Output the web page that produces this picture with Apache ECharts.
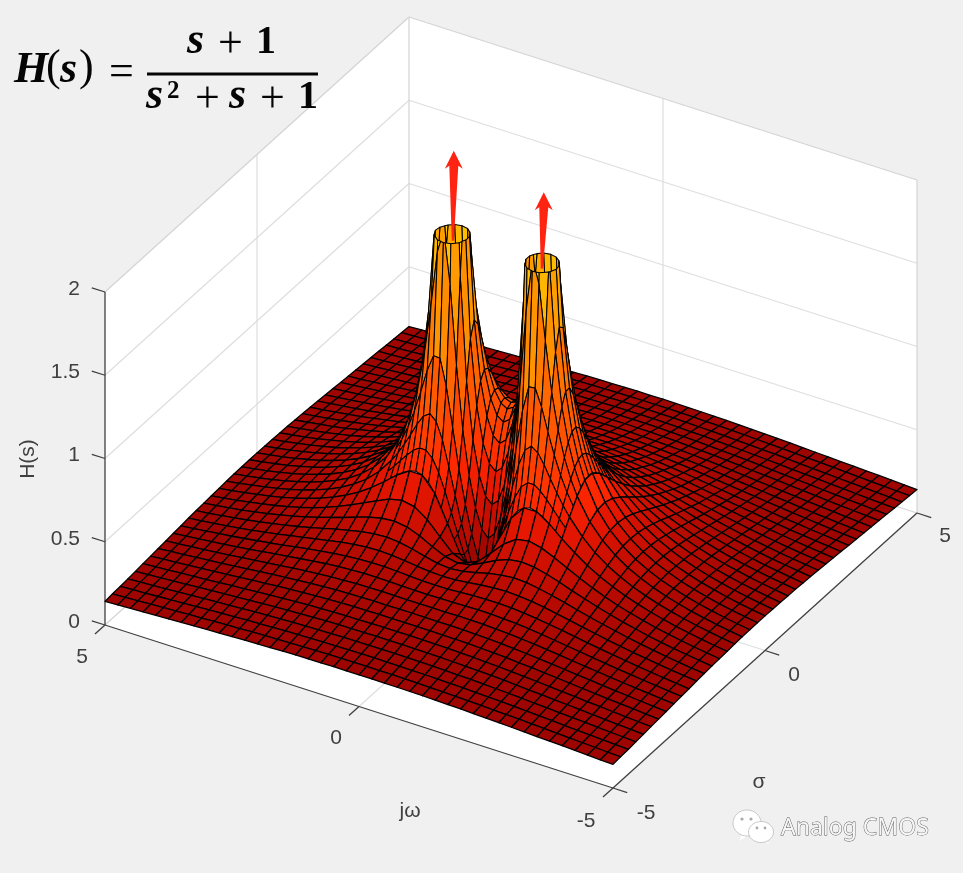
<!DOCTYPE html>
<html><head><meta charset="utf-8">
<style>html,body{margin:0;padding:0;background:#f0f0f0}#c{width:963px;height:873px}</style>
<script src="https://cdn.jsdelivr.net/npm/echarts@6/dist/echarts.min.js"></script>
</head><body><div id="c"></div>
<script>
// Surface heights |H| per jω row (|ω| = 0 … 5, the surface is mirror-symmetric in ω); columns are sigmaValues.
const sigmaValues=[-5,-4.75,-4.5,-4.25,-4,-3.75,-3.5,-3.25,-3,-2.75,-2.5,-2.25,-2,-1.75,-1.5,-1.25,-1,-0.75,-0.5,-0.25,0,0.25,0.5,0.75,1,1.25,1.5,1.75,2,2.25,2.5,2.75,3,3.25,3.5,3.75,4,4.25,4.5,4.75,5];
const omegaValues=[-5,-4.75,-4.5,-4.25,-4,-3.75,-3.5,-3.25,-3,-2.75,-2.5,-2.25,-2,-1.75,-1.5,-1.25,-1,-0.75,-0.5,-0.25,0,0.25,0.5,0.75,1,1.25,1.5,1.75,2,2.25,2.5,2.75,3,3.25,3.5,3.75,4,4.25,4.5,4.75,5];
const w000=[.190,.199,.209,.219,.231,.243,.256,.271,.286,.301,.316,.328,.333,.324,.286,.190,0,.308,.667,.923,1,.952,.857,.757,.667,.590,.526,.473,.429,.391,.359,.331,.308,.287,.269,.253,.238,.225,.214,.203,.194];
const w025=[.190,.199,.209,.219,.231,.243,.256,.271,.286,.302,.317,.331,.340,.339,.317,.271,.258,.465,.813,1.04,1.06,.978,.864,.757,.665,.588,.524,.471,.427,.390,.358,.331,.307,.286,.268,.252,.238,.225,.213,.203,.193];
const w050=[.190,.199,.208,.219,.230,.242,.256,.270,.286,.303,.321,.339,.357,.374,.392,.430,.555,.908,1.414,1.463,1.24,1.034,.877,.755,.658,.581,.518,.466,.423,.386,.355,.329,.305,.285,.266,.251,.237,.224,.213,.202,.193];
const w075=[.189,.198,.207,.218,.229,.241,.255,.270,.287,.305,.326,.349,.377,.414,.470,.585,.864,1.755,4.82,2.354,1.439,1.077,.876,.742,.644,.567,.507,.456,.415,.379,.349,.324,.302,.282,.264,.249,.235,.222,.211,.201,.192];
const w100=[.188,.197,.206,.216,.228,.240,.254,.269,.286,.306,.329,.356,.392,.443,.523,.672,1,1.931,4.47,2.34,1.414,1.044,.844,.713,.620,.548,.491,.444,.405,.371,.344,.318,.297,.278,.261,.246,.232,.220,.209,.199,.190];
const w125=[.187,.195,.204,.214,.226,.238,.252,.267,.285,.305,.329,.359,.399,.454,.538,.674,.912,1.306,1.658,1.493,1.167,.934,.779,.670,.587,.523,.472,.429,.392,.362,.335,.311,.291,.273,.257,.242,.230,.218,.207,.197,.189];
const w150=[.185,.193,.202,.212,.223,.235,.249,.264,.281,.302,.326,.356,.395,.447,.520,.624,.768,.938,1.054,1.034,.924,.802,.697,.616,.548,.494,.448,.411,.377,.349,.326,.303,.284,.267,.252,.238,.226,.215,.204,.195,.187];
const w175=[.183,.191,.200,.210,.220,.232,.245,.260,.277,.297,.319,.348,.383,.429,.486,.559,.648,.732,.787,.789,.746,.680,.616,.558,.506,.462,.423,.391,.362,.337,.314,.295,.277,.261,.247,.234,.222,.211,.201,.193,.184];
const w200=[.181,.188,.197,.206,.217,.228,.241,.254,.271,.290,.311,.337,.367,.405,.449,.500,.555,.602,.633,.638,.620,.586,.546,.504,.465,.430,.399,.371,.345,.322,.303,.285,.269,.254,.241,.229,.217,.207,.198,.189,.182];
const w225=[.178,.186,.194,.203,.213,.223,.235,.248,.264,.281,.300,.322,.349,.378,.412,.448,.484,.516,.535,.539,.530,.510,.484,.455,.427,.399,.374,.350,.329,.309,.291,.275,.260,.247,.234,.223,.213,.203,.194,.186,.179];
const w250=[.175,.182,.191,.199,.208,.218,.230,.242,.256,.271,.289,.308,.329,.354,.379,.405,.430,.451,.464,.468,.463,.451,.434,.414,.391,.370,.350,.330,.311,.295,.279,.265,.251,.239,.228,.217,.208,.199,.191,.183,.176];
const w275=[.172,.179,.187,.195,.203,.213,.223,.235,.247,.261,.276,.292,.310,.330,.349,.369,.386,.401,.410,.414,.411,.404,.391,.377,.361,.344,.327,.311,.296,.281,.267,.254,.243,.232,.221,.212,.203,.194,.187,.179,.173];
const w300=[.169,.176,.183,.190,.198,.207,.217,.227,.238,.251,.263,.278,.292,.308,.322,.338,.351,.362,.369,.371,.370,.365,.356,.345,.333,.320,.307,.294,.280,.268,.256,.245,.234,.224,.214,.206,.197,.189,.182,.175,.169];
const w325=[.166,.172,.179,.186,.193,.201,.210,.219,.229,.240,.251,.263,.276,.288,.300,.312,.322,.330,.335,.338,.336,.333,.327,.319,.310,.299,.288,.277,.266,.255,.245,.235,.225,.216,.208,.200,.192,.185,.178,.172,.166];
const w350=[.162,.169,.175,.181,.188,.195,.203,.212,.221,.230,.240,.250,.260,.271,.280,.289,.297,.303,.308,.309,.309,.306,.302,.296,.288,.280,.271,.262,.252,.243,.234,.225,.217,.209,.201,.194,.187,.180,.174,.168,.162];
const w375=[.159,.165,.170,.176,.183,.189,.197,.204,.212,.220,.229,.237,.246,.254,.262,.270,.276,.281,.284,.286,.285,.284,.280,.275,.269,.263,.255,.248,.240,.232,.224,.216,.209,.201,.194,.188,.181,.175,.169,.164,.159];
const w400=[.156,.161,.166,.172,.177,.184,.190,.197,.204,.211,.218,.226,.233,.240,.247,.252,.258,.261,.264,.266,.266,.264,.262,.258,.253,.247,.241,.235,.228,.221,.214,.208,.201,.194,.188,.182,.176,.171,.165,.160,.155];
const w425=[.152,.157,.162,.167,.172,.178,.184,.190,.196,.202,.209,.215,.221,.227,.233,.238,.242,.245,.247,.248,.248,.247,.245,.242,.238,.233,.228,.223,.217,.211,.205,.199,.193,.188,.182,.176,.171,.166,.161,.156,.152];
const w450=[.149,.153,.157,.162,.167,.172,.178,.183,.189,.194,.200,.205,.210,.216,.220,.224,.228,.230,.232,.233,.233,.232,.231,.228,.225,.221,.217,.212,.207,.202,.197,.192,.186,.181,.176,.171,.166,.161,.157,.152,.148];
const w475=[.145,.149,.154,.158,.162,.167,.172,.177,.182,.186,.191,.196,.200,.205,.209,.212,.215,.217,.219,.220,.220,.219,.218,.216,.213,.210,.206,.202,.198,.193,.189,.184,.179,.175,.170,.166,.161,.157,.153,.149,.145];
const w500=[.142,.146,.149,.153,.157,.162,.166,.170,.175,.179,.183,.188,.192,.195,.198,.201,.204,.206,.207,.208,.208,.207,.206,.204,.202,.199,.196,.193,.189,.185,.181,.177,.173,.169,.165,.161,.157,.153,.149,.145,.141];
const heightRows=[w000,w025,w050,w075,w100,w125,w150,w175,w200,w225,w250,w275,w300,w325,w350,w375,w400,w425,w450,w475,w500];
// Finer readings around the two peaks (σ −1.25…0.5, |ω| 0…1.75)
const patchSigma=[-1.25,-1.125,-1,-0.875,-0.75,-0.625,-0.5,-0.375,-0.25,-0.125,0,0.125,0.25,0.375,0.5];
const p000=[.190,.110,0,.140,.308,.490,.667,.816,.923,.982,1,.986,.952,.907,.857];
const p0125=[.213,.155,.127,.200,.349,.526,.702,.849,.951,1.005,1.016,.997,.959,.911,.859];
const p025=[.271,.249,.258,.329,.465,.639,.813,.954,1.04,1.071,1.063,1.027,.978,.921,.864];
const p0375=[.347,.358,.400,.493,.646,.839,1.025,1.154,1.203,1.189,1.139,1.074,1.004,.936,.871];
const p050=[.430,.474,.555,.694,.908,1.177,1.414,1.508,1.463,1.357,1.24,1.131,1.034,.951,.877];
const p0625=[.512,.589,.716,.931,1.283,1.80,2.22,2.18,1.86,1.570,1.350,1.189,1.063,.963,.880];
const p075=[.585,.690,.864,1.167,1.755,3.03,4.82,3.53,2.354,1.77,1.439,1.228,1.077,.966,.876];
const p0875=[.640,.765,.965,1.325,2.07,4.39,30,4.96,2.62,1.85,1.466,1.233,1.073,.956,.865];
const p100=[.672,.801,1,1.328,1.931,3.10,4.47,3.42,2.34,1.75,1.414,1.196,1.044,.932,.844];
const p1125=[.683,.802,.973,1.227,1.60,2.07,2.38,2.25,1.87,1.545,1.301,1.127,.996,.895,.814];
const p125=[.674,.776,.912,1.089,1.306,1.525,1.658,1.633,1.493,1.323,1.167,1.039,.934,.849,.779];
const p1375=[.653,.736,.839,.961,1.093,1.212,1.282,1.285,1.225,1.135,1.037,.948,.868,.799,.739];
const p150=[.624,.691,.768,.853,.938,1.010,1.054,1.061,1.034,.984,.924,.860,.802,.746,.697];
const p1625=[.592,.645,.704,.764,.822,.869,.899,.908,.895,.866,.826,.783,.739,.696,.656];
const p175=[.559,.602,.648,.691,.732,.765,.787,.795,.789,.771,.746,.714,.680,.649,.616];
const patchRows=[p000,p0125,p025,p0375,p050,p0625,p075,p0875,p100,p1125,p125,p1375,p150,p1625,p175];
const poleOmega=[0.866,-0.866], poleSigma=[-0.5,-0.5], arrowTopZ=[2.51,2.43];
const zTicks=[0,0.5,1,1.5,2], sigmaTicks=[-5,0,5], omegaTicks=[5,0,-5];
const zLimit=2;

// View of the box (orthographic), in canvas pixels
function proj(s,w,z){return [511+30.4*s-50.8*w, 569-27.5*s-16.3*w-166.5*z];}
const ink='#404040', gridC='#dedede', edgeC='#d4d4d4';

function heightAt(i,j){return heightRows[Math.round(Math.abs(omegaValues[j])*4)][i];}
function patchAt(s,w){return patchRows[Math.round(Math.abs(w)*8)][patchSigma.indexOf(s)];}

// cells far -> near so nearer cells paint over further ones
const cellData=[];
for(let i=sigmaValues.length-2;i>=0;i--){
  for(let j=omegaValues.length-2;j>=0;j--){
    const s0=sigmaValues[i],s1=sigmaValues[i+1],w0=omegaValues[j],w1=omegaValues[j+1];
    if(s0>=-1.25&&s1<=0.5&&Math.abs(w0)<=1.75&&Math.abs(w1)<=1.75){
      const sm=(s0+s1)/2,wm=(w0+w1)/2;
      [[sm,s1],[s0,sm]].forEach(S=>[[wm,w1],[w0,wm]].forEach(W=>{
        cellData.push([S[0],W[0],S[1],W[1],patchAt(S[0],W[0]),patchAt(S[1],W[0]),patchAt(S[1],W[1]),patchAt(S[0],W[1]),1]);
      }));
    } else {
      cellData.push([s0,w0,s1,w1,heightAt(i,j),heightAt(i+1,j),heightAt(i+1,j+1),heightAt(i,j+1),0]);
    }
  }
}
function clipTop(poly){
  const out=[];
  for(let k=0;k<poly.length;k++){
    const a=poly[k],b=poly[(k+1)%poly.length];
    const ai=a[2]<=zLimit,bi=b[2]<=zLimit;
    if(ai) out.push(a);
    if(ai!==bi){const t=(zLimit-a[2])/(b[2]-a[2]);out.push([a[0]+t*(b[0]-a[0]),a[1]+t*(b[1]-a[1]),zLimit]);}
  }
  return out;
}
// colour stops: height fraction -> green share
const rampT=[0,0.3,0.5,0.75,0.9,1], rampG=[0,0.1,0.3,0.47,0.62,0.85];
function ramp(t){for(let k=1;k<rampT.length;k++){if(t<=rampT[k]){return rampG[k-1]+(rampG[k]-rampG[k-1])*(t-rampT[k-1])/(rampT[k]-rampT[k-1]);}}return rampG[rampG.length-1];}
function autumn(z){
  const t=Math.min(1,Math.max(0,z/zLimit));
  const lift=Math.min(1,Math.max(0,(z-0.22)/0.5));   // dense far-field mesh reads darker
  const k=0.62+0.38*lift;
  return 'rgb('+Math.round(255*k)+','+Math.round(255*ramp(t)*k)+',0)';
}
function renderCell(p,api){
  const s0=api.value(0),w0=api.value(1),s1=api.value(2),w1=api.value(3);
  const poly=clipTop([[s0,w0,api.value(4)],[s1,w0,api.value(5)],[s1,w1,api.value(6)],[s0,w1,api.value(7)]]);
  if(poly.length<3) return null;
  let m=0;const pts=poly.map(v=>{m+=v[2];return api.coord(proj(v[0],v[1],v[2]));});
  return {type:'polygon',shape:{points:pts},style:{fill:autumn(m/poly.length),stroke:'#000',lineWidth:api.value(8)?1.05:1.3,lineJoin:'round'}};
}
// box pieces
const wallData=[[-5,5,5,5],[5,5,5,-5],[-5,5,-5,-5]];
function renderWall(p,api){
  const a=[api.value(0),api.value(1)],b=[api.value(2),api.value(3)];
  let c;
  if(p.dataIndex<2) c=[proj(a[0],a[1],0),proj(b[0],b[1],0),proj(b[0],b[1],2),proj(a[0],a[1],2)];
  else c=[proj(-5,5,0),proj(5,5,0),proj(5,-5,0),proj(-5,-5,0)];
  return {type:'polygon',shape:{points:c.map(q=>api.coord(q))},style:{fill:'#fff'}};
}
const segs=[];
function seg(a,b,col,lw){segs.push([...a,...b,col,lw]);}
zTicks.forEach(z=>{ if(z>0&&z<2){seg([-5,5,z],[5,5,z],gridC,1.2);seg([5,5,z],[5,-5,z],gridC,1.2);} });
seg([0,5,0],[0,5,2],gridC,1.2);seg([5,0,0],[5,0,2],gridC,1.2);
seg([0,5,0],[0,-5,0],gridC,1.2);seg([-5,0,0],[5,0,0],gridC,1.2);
seg([-5,5,2],[5,5,2],edgeC,1.2);seg([5,5,2],[5,-5,2],edgeC,1.2);
seg([5,5,0],[5,5,2],edgeC,1.2);seg([5,-5,0],[5,-5,2],edgeC,1.2);
seg([-5,5,0],[5,5,0],edgeC,1.2);seg([5,5,0],[5,-5,0],edgeC,1.2);
seg([-5,5,0],[-5,5,2],ink,1.3);seg([-5,5,0],[-5,-5,0],ink,1.3);seg([-5,-5,0],[5,-5,0],ink,1.3);
zTicks.forEach(z=>seg([-5,5,z],[-5,5.26,z],ink,1.3));
omegaTicks.forEach(w=>seg([-5,w,0],[-5.33,w,0],ink,1.3));
sigmaTicks.forEach(s=>seg([s,-5,0],[s,-5.28,0],ink,1.3));
function renderSeg(p,api){
  const a=api.coord(proj(api.value(0),api.value(1),api.value(2))),b=api.coord(proj(api.value(3),api.value(4),api.value(5)));
  const d=segs[p.dataIndex];
  return {type:'line',shape:{x1:a[0],y1:a[1],x2:b[0],y2:b[1]},style:{stroke:d[6],lineWidth:d[7]}};
}
// labels: [sigma, omega, z, dx, dy, text, align]
const lab=[];
zTicks.forEach(z=>lab.push([-5,5,z,-25,-3,String(z),'right']));
omegaTicks.forEach(w=>lab.push([-5,w,0,w<0?-27:-23,w<0?33:32,String(w),'center']));
sigmaTicks.forEach(s=>lab.push([s,-5,0,s<0?33:(s>0?28:29),s>0?23:25,String(s),'center']));
function renderLab(p,api){
  const d=lab[p.dataIndex];
  const c=api.coord(proj(api.value(0),api.value(1),api.value(2)));
  return {type:'text',x:c[0]+d[3],y:c[1]+d[4],style:{text:d[5],fill:ink,font:'21px "Liberation Sans"',textAlign:d[6],textVerticalAlign:'middle'}};
}
// arrows
const arrowData=poleSigma.map((s,k)=>[s,poleOmega[k],zLimit-0.03,arrowTopZ[k]]);
function renderArrow(p,api){
  const s=api.value(0),w=api.value(1),lean=p.dataIndex?4:2;
  const b=api.coord(proj(s,w,api.value(2))),t=api.coord(proj(s,w,api.value(3)));
  const x=t[0]+lean,y=t[1],bx=b[0]+lean/2;
  const pts=[[x,y],[x+9,y+18],[x+4.5,y+15],[bx+1,b[1]],[bx-1,b[1]],[x-4.5,y+15],[x-9,y+18]];
  return {type:'polygon',shape:{points:pts},style:{fill:'#ff2412'}};
}
const F='"Liberation Serif"';
// formula glyphs: [text, x, baseline, font]
const I='italic bold 44px '+F, N='bold 40px '+F, R='44px '+F, S='bold 25px '+F;
const mid={[I]:15,[N]:13,[R]:15,[S]:8};
const formula=[['H',14,86,I],['(',46,83,R],['s',60,86,I],[')',79,83,R],['=',109,88,R],
 ['s',187,57,I],['+',218,60,R],['1',256,56,N],
 ['s',146,112,I],['2',167,100,S],['+',195,115,R],['s',229,112,I],['+',260,115,R],['1',298,111,N]];
function bubble(cx,cy,rx,ry,tx,ty){return [
  {type:'polygon',shape:{points:[[cx-4,cy+ry-3],[tx,ty],[cx+4,cy+ry-2]]},style:{fill:'#fff'}},
  {type:'ellipse',shape:{cx,cy,rx,ry},style:{fill:'#fff',stroke:'#b5b5b5',lineWidth:.7}},
];}
const graphicEls=[
  ...formula.map(g=>({type:'text',x:g[1],y:g[2]-mid[g[3]],style:{text:g[0],font:g[3],fill:'#050505',textVerticalAlign:'middle'}})),
  {type:'rect',shape:{x:147,y:72.5,width:171,height:3},style:{fill:'#050505'}},
  ...bubble(747,823,14,13,739,841),
  ...bubble(761,832,12.5,10.5,770,844),
  {type:'circle',shape:{cx:742,cy:819,r:1.6},style:{fill:'#aaa'}},
  {type:'circle',shape:{cx:751,cy:819,r:1.6},style:{fill:'#aaa'}},
  {type:'circle',shape:{cx:757,cy:828,r:1.4},style:{fill:'#aaa'}},
  {type:'circle',shape:{cx:765,cy:828,r:1.4},style:{fill:'#aaa'}},
  {type:'text',x:781,y:828,style:{text:'Analog CMOS',font:'23px "Noto Sans"',fill:'#f6f6f6',stroke:'#5a5a5a',lineWidth:.9,textVerticalAlign:'middle'}},
  {type:'text',x:28,y:459,rotation:Math.PI/2,style:{text:'H(s)',font:'21px "Liberation Sans"',fill:ink,textAlign:'center',textVerticalAlign:'middle'}},
  {type:'text',x:410,y:811,style:{text:'jω',font:'21px "Liberation Sans"',fill:ink,textAlign:'center',textVerticalAlign:'middle'}},
  {type:'text',x:759,y:782,style:{text:'σ',font:'21px "Liberation Sans"',fill:ink,textAlign:'center',textVerticalAlign:'middle'}}
].map(e=>Object.assign({silent:true,z:50},e));
const base={type:'custom',coordinateSystem:'cartesian2d',clip:false,silent:true,animation:false,progressive:0,encode:{x:0,y:1}};
const chart=echarts.init(document.getElementById('c'),null,{renderer:'canvas'});
chart.setOption({
  animation:false,backgroundColor:'#f0f0f0',tooltip:{show:false},
  grid:{left:0,right:0,top:0,bottom:0},
  xAxis:{type:'value',min:0,max:963,show:false},
  yAxis:{type:'value',min:0,max:873,inverse:true,show:false},
  series:[
    Object.assign({},base,{name:'walls',z:1,data:wallData,renderItem:renderWall}),
    Object.assign({},base,{name:'box',z:2,data:segs.map(d=>d.slice(0,6)),renderItem:renderSeg}),
    Object.assign({},base,{name:'labels',z:3,data:lab.map(d=>d.slice(0,3)),renderItem:renderLab}),
    Object.assign({},base,{name:'H(s)',z:4,data:cellData,renderItem:renderCell}),
    Object.assign({},base,{name:'poles',z:5,data:arrowData,renderItem:renderArrow})
  ],
  graphic:{elements:graphicEls}
});
</script></body></html>
